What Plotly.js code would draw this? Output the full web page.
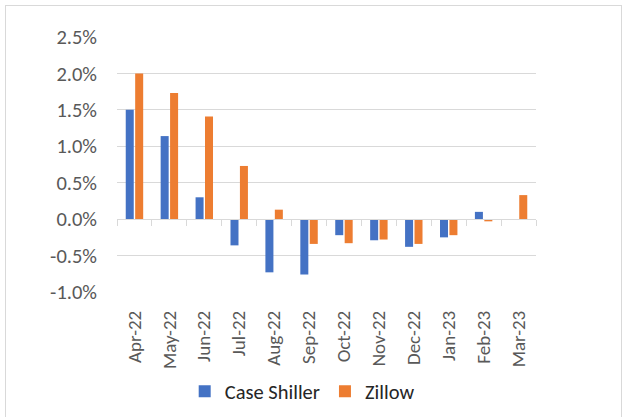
<!DOCTYPE html>
<html>
<head>
<meta charset="utf-8">
<script src="https://cdn.plot.ly/plotly-3.0.1.min.js"></script>
<style>
  html, body { margin: 0; padding: 0; background: #ffffff; }
  #wrap { position: relative; width: 625px; height: 417px; overflow: hidden; }
  #frame { position: absolute; left: 5px; top: 5px; width: 617px; height: 420px; border: 1px solid #d9d9d9; box-sizing: border-box; pointer-events: none; }
  #chart { position: absolute; left: 0; top: 0; width: 625px; height: 417px; }
</style>
</head>
<body>
<div id="wrap">
  <div id="chart"></div>
  <div id="frame"></div>
</div>
<script>
// Data (monthly % change)
const months = ["Apr-22","May-22","Jun-22","Jul-22","Aug-22","Sep-22","Oct-22","Nov-22","Dec-22","Jan-23","Feb-23","Mar-23"];
const caseShiller = [1.50, 1.14, 0.30, -0.36, -0.73, -0.76, -0.22, -0.29, -0.38, -0.25, 0.10, null];
const zillow = [2.00, 1.73, 1.41, 0.73, 0.13, -0.34, -0.33, -0.28, -0.34, -0.22, -0.03, 0.33];
const yTickVals = [-1.0, -0.5, 0.0, 0.5, 1.0, 1.5, 2.0, 2.5];
const yTickText = ["-1.0%", "-0.5%", "0.0%", "0.5%", "1.0%", "1.5%", "2.0%", "2.5%"];

const FONT = "Carlito, Calibri, Lato, sans-serif";
const GRID = "#d9d9d9";

const traces = [
  { type: "bar", name: "Case Shiller", x: months, y: caseShiller,
    marker: { color: "#4472C4", line: { width: 0 } }, hoverinfo: "x+y" },
  { type: "bar", name: "Zillow", x: months, y: zillow,
    marker: { color: "#ED7D31", line: { width: 0 } }, hoverinfo: "x+y" },
  // helper trace so the zero-line axis (with boundary ticks) is drawn
  { type: "scatter", mode: "lines", x: months, y: months.map(() => null),
    xaxis: "x2", yaxis: "y", showlegend: false, hoverinfo: "skip" }
];

const plotTop = 37, plotBottom = 125, plotLeft = 117, plotRight = 89;
const yMin = -1.0, yMax = 2.5;

const layout = {
  width: 625, height: 417,
  margin: { l: plotLeft, r: plotRight, t: plotTop, b: plotBottom, pad: 0, autoexpand: false },
  paper_bgcolor: "rgba(0,0,0,0)",
  plot_bgcolor: "rgba(0,0,0,0)",
  font: { family: FONT, size: 19, color: "#595959" },
  barmode: "group",
  bargap: 0.46,
  bargroupgap: 0.15,
  showlegend: true,
  legend: {
    orientation: "h", x: 0.442, xanchor: "center", y: -0.39, yanchor: "middle",
    font: { family: FONT, size: 20.5, color: "#262626" },
    itemwidth: 30, tracegroupgap: 0, traceorder: "normal"
  },
  xaxis: {
    type: "category", categoryorder: "array", categoryarray: months,
    showgrid: false, zeroline: false, showline: false, ticks: "",
    tickangle: -90, ticklabelstandoff: 14, automargin: false,
    tickfont: { family: FONT, size: 19, color: "#595959" }
  },
  xaxis2: {
    type: "category", matches: "x", overlaying: "x", anchor: "free",
    position: (0 - yMin) / (yMax - yMin), automargin: false,
    showgrid: false, zeroline: false, showticklabels: false,
    showline: true, linecolor: GRID, linewidth: 1,
    ticks: "outside", tickson: "boundaries", ticklen: 6, tickcolor: GRID, tickwidth: 1
  },
  yaxis: {
    range: [yMin, yMax], tickvals: yTickVals, ticktext: yTickText,
    showgrid: true, gridcolor: GRID, gridwidth: 1,
    zeroline: false, showline: false, ticks: "", automargin: false,
    ticklabelstandoff: 19,
    tickfont: { family: FONT, size: 20.5, color: "#595959" }
  }
};

Plotly.newPlot("chart", traces, layout, { staticPlot: true, displayModeBar: false });
</script>
</body>
</html>
